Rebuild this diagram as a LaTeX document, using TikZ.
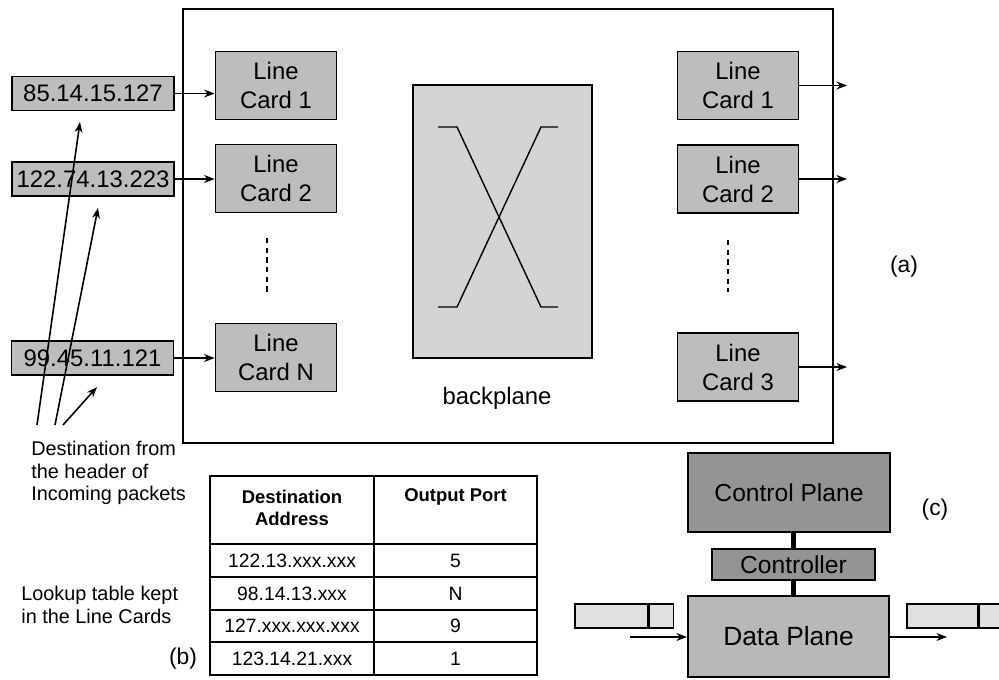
\documentclass[tikz,border=0pt]{standalone}
\usepackage{fontspec}
\setmainfont{Liberation Sans}
\usetikzlibrary{arrows.meta,positioning}

\definecolor{cardgray}{gray}{0.74}
\definecolor{backgray}{gray}{0.83}
\definecolor{ctrlgray}{gray}{0.58}
\definecolor{datagray}{gray}{0.72}
\definecolor{pktgray}{gray}{0.88}

\tikzset{
  card/.style={draw, line width=1pt, fill=cardgray, minimum width=2.42cm, minimum height=1.36cm,
    inner sep=0pt, align=center, font=\fontsize{13.6}{16.5}\selectfont},
  ipbox/.style={draw, line width=1pt, fill=cardgray, minimum width=3.24cm, minimum height=0.68cm,
    inner sep=0pt, font=\fontsize{13.6}{16}\selectfont},
  plane/.style={draw, line width=1.2pt, inner sep=0pt, font=\fontsize{14}{16}\selectfont},
  pkt/.style={draw, line width=0.8pt, fill=pktgray, minimum height=0.48cm, inner sep=0pt},
  caption/.style={align=left, inner sep=0pt, font=\fontsize{11.3}{13}\selectfont},
  tag/.style={inner sep=0pt, font=\fontsize{13}{15}\selectfont},
  tabhead/.style={align=center, inner sep=0pt, font=\bfseries\fontsize{10.5}{12.5}\selectfont},
  tabcell/.style={inner sep=0pt, font=\fontsize{11}{13}\selectfont},
  feedline/.style={->, line width=0.9pt}
}

\begin{document}
\begin{tikzpicture}[>={Stealth[length=6pt,width=4.5pt]}, x=0.02cm, y=-0.02cm]
  \clip (0,0) rectangle (999,679);

  % Router frame and backplane
  \draw[line width=1.1pt] (183,9) rectangle (833,443);
  \node[plane, fill=backgray, minimum width=3.58cm, minimum height=5.46cm] (backplane) at (502.5,221.5) {};
  \draw[line width=0.8pt] (438,127) -- (457,127) -- (541,307) -- (558,307);
  \draw[line width=0.8pt] (558,127) -- (541,127) -- (457,307) -- (438,307);
  \node[tag, font=\fontsize{13.6}{16}\selectfont] (bplabel) at (497,398) {backplane};

  % Incoming side
  \node[card] (in1) at (276,85.5) {Line\\Card 1};
  \node[card] (in2) at (276,178.5) {Line\\Card 2};
  \node[card] (inN) at (276,357.5) {Line\\Card N};
  \draw[line width=1pt, dash pattern=on 3pt off 2.5pt] (267,238) -- (267,292);

  \node[ipbox] (ip1) at (93,93.5) {85.14.15.127};
  \node[ipbox] (ip2) at (93,179) {122.74.13.223};
  \node[ipbox] (ip3) at (92.5,358) {99.45.11.121};
  \foreach \a/\b in {ip1/in1, ip2/in2, ip3/inN}
    \draw[feedline] (\a.east) -- (\a.east -| \b.west);

  % Outgoing side
  \node[card] (out1) at (738,85.5) {Line\\Card 1};
  \node[card] (out2) at (738,179) {Line\\Card 2};
  \node[card] (out3) at (738,367) {Line\\Card 3};
  \draw[line width=1pt, dash pattern=on 3pt off 2.5pt] (728,240) -- (728,292);
  \coordinate (exit) at (847,0);
  \foreach \n in {1,2,3}
    \draw[feedline] (out\n.east) -- (out\n.east -| exit);
  \node[tag] (tagA) at (904,267) {(a)};

  % Pointers to the destinations
  \node[caption, anchor=west] (destnote) at (31,473) {Destination from\\the header of\\Incoming packets};
  \coordinate (from1) at (37,425);
  \coordinate (from2) at (55,425);
  \coordinate (from3) at (63,425);
  \coordinate (tip1) at (80,122);
  \coordinate (tip2) at (98,208);
  \coordinate (tip3) at (97,387);
  \foreach \i in {1,2,3}
    \draw[feedline] (from\i) -- (tip\i);

  % Lookup table (b)
  \node[caption, anchor=west] (lookupnote) at (21,605) {Lookup table kept\\in the Line Cards};
  \node[tag] (tagB) at (183,659) {(b)};
  \draw[line width=1.6pt] (210,476) rectangle (537,675);
  \draw[line width=1pt] (374,476) -- (374,675);
  \foreach \y in {544,577,610,642}
    \draw[line width=1pt] (210,\y) -- (537,\y);
  \node[tabhead] (hdaddr) at (292,508) {Destination\\Address};
  \node[tabhead] (hdport) at (455.5,497) {Output Port};
  \foreach \addr/\port/\y [count=\i] in {122.13.xxx.xxx/5/560.5, 98.14.13.xxx/N/593.5,
      127.xxx.xxx.xxx/9/626, 123.14.21.xxx/1/658.5} {
    \node[tabcell] (addr\i) at (292,\y) {\addr};
    \node[tabcell] (port\i) at (455.5,\y) {\port};
  }

  % Control and data plane (c)
  \node[plane, fill=ctrlgray, minimum width=4.04cm, minimum height=1.58cm] (ctrlplane) at (789,492.5) {Control Plane};
  \node[plane, fill=ctrlgray, minimum width=3.26cm, minimum height=0.62cm] (controller) at (793.5,564.5) {Controller};
  \node[plane, fill=datagray, minimum width=4.02cm, minimum height=1.62cm,
    font=\fontsize{15}{17}\selectfont] (dataplane) at (788.5,636.5) {Data Plane};
  \draw[line width=2.5pt] (controller.north |- ctrlplane.south) -- (controller.north);
  \draw[line width=2.5pt] (controller.south) -- (controller.south |- dataplane.north);
  \node[tag] (tagC) at (935,510) {(c)};

  \node[pkt, minimum width=1.46cm] (inbody) at (611.5,616) {};
  \node[pkt, minimum width=0.48cm, right=0pt of inbody] (inhead) {};
  \node[pkt, minimum width=1.42cm] (outbody) at (942.5,616) {};
  \node[pkt, minimum width=0.56cm, right=0pt of outbody] (outhead) {};
  \coordinate (feed) at (630,637);
  \coordinate (drain) at (947,637);
  \draw[feedline] (feed) -- (feed -| dataplane.west);
  \draw[feedline] (dataplane.east |- drain) -- (drain);
\end{tikzpicture}
\end{document}
